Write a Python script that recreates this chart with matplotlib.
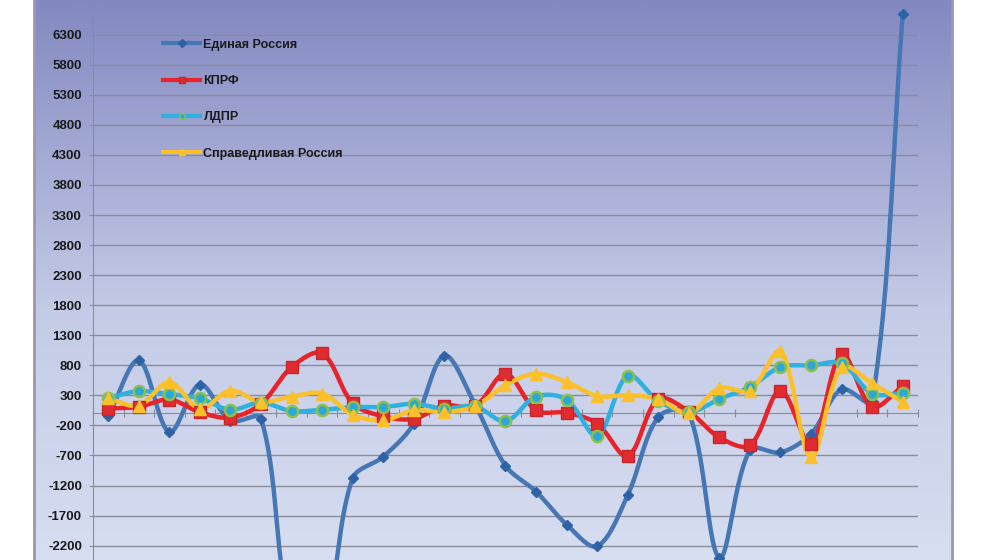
import numpy as np
import matplotlib.pyplot as plt
from matplotlib.lines import Line2D
from matplotlib.colors import LinearSegmentedColormap

plt.rcParams['font.family'] = ['Liberation Sans', 'DejaVu Sans']

# данные по 27 категориям
cats = list(range(1, 28))
er = [-50, 880, -310, 480, -120, -90, -3400, -3500, -1080, -720, -170, 960, 150,
      -870, -1300, -1850, -2210, -1360, -60, 0, -2400, -610, -650, -340, 400, 200, 6640]
kprf = [80, 110, 230, 20, -70, 160, 770, 1000, 170, -50, -90, 130, 120,
        660, 50, 10, -170, -710, 240, 30, -400, -530, 380, -510, 990, 110, 450]
ldpr = [260, 370, 320, 250, 60, 180, 40, 60, 105, 105, 160, 80, 120,
        -130, 280, 230, -370, 630, 210, 20, 240, 440, 770, 800, 830, 330, 340]
sr = [250, 130, 520, 80, 380, 190, 280, 330, -20, -117, 50, 22, 120,
      470, 660, 520, 290, 300, 240, 0, 420, 380, 1030, -730, 770, 500, 190]

names = ['Единая Россия', 'КПРФ', 'ЛДПР', 'Справедливая Россия']
yticks = list(range(-2200, 6301, 500))

# масштаб в пикселях, чтобы сглаживание было как в Excel
PX_X = 30.56
PX_Y = 0.0601


def smooth(x, y, n=30):
    # кривые Безье, контрольные точки зависят от длины отрезков
    P = np.column_stack([np.asarray(x, float) * PX_X, np.asarray(y, float) * PX_Y])
    k = len(P)
    d = np.linalg.norm(np.diff(P, axis=0), axis=1)
    c_out = P.copy()
    c_in = P.copy()
    for i in range(1, k - 1):
        T = P[i + 1] - P[i - 1]
        s = d[i - 1] + d[i]
        c_out[i] = P[i] + T * d[i] / s / 3
        c_in[i] = P[i] - T * d[i - 1] / s / 3
    c_out[0] = P[0] + (P[1] - P[0]) / 3
    c_in[-1] = P[-1] - (P[-1] - P[-2]) / 3
    t = np.linspace(0, 1, n, endpoint=False)[:, None]
    pts = []
    for i in range(k - 1):
        b = ((1 - t)**3 * P[i] + 3 * (1 - t)**2 * t * c_out[i]
             + 3 * (1 - t) * t**2 * c_in[i + 1] + t**3 * P[i + 1])
        pts.append(b)
    pts.append(P[-1:])
    pts = np.vstack(pts)
    return pts[:, 0] / PX_X, pts[:, 1] / PX_Y


fig = plt.figure(figsize=(10, 5.6), dpi=100)

# фон диаграммы с градиентом
bg = fig.add_axes([0.034, 0, 0.918, 1])
cmap = LinearSegmentedColormap.from_list('bg', [(0, '#8388c1'), (0.55, '#c4cbe6'), (1, '#d7def1')])
grad = np.linspace(0, 1, 256).reshape(-1, 1)
bg.imshow(grad, aspect='auto', cmap=cmap, extent=[0, 1, 0, 1])
bg.set_xticks([])
bg.set_yticks([])
for s in bg.spines.values():
    s.set_color('#9a9aa6')
    s.set_linewidth(2)
bg.spines['top'].set_visible(False)
bg.spines['bottom'].set_visible(False)

ax = fig.add_axes([0.093, 0, 0.825, 544 / 560])
ax.set_facecolor('none')
ax.set_xlim(0.5, 27.5)
ax.set_ylim(-2439, 6611)

ax.set_yticks(yticks)
ax.set_yticklabels([str(v) for v in yticks], fontsize=9.5, fontweight='bold', color='#1a1a1a')
ax.yaxis.grid(True, color='#8a8c98', lw=1)
ax.set_axisbelow(True)
ax.tick_params(axis='y', length=3, color='#8a8c98', pad=5)

ax.set_xticks(np.arange(0.5, 28, 1))
ax.set_xticklabels([])
ax.tick_params(axis='x', direction='inout', length=6, color='#8a8c98')
ax.spines['bottom'].set_position(('data', 0))
ax.spines['bottom'].set_color('#8a8c98')
ax.spines['left'].set_color('#8a8c98')
ax.spines['top'].set_visible(False)
ax.spines['right'].set_visible(False)

styles = [
    dict(color='#4677b4', mfc='#2d62a6', mec='#2d62a6', marker='D', ms=5, lw=3.2),
    dict(color='#e8232a', mfc='#e02b30', mec='#c8262b', marker='s', ms=8, lw=3.2),
    dict(color='#2eb0e0', mfc='#2aa8d8', mec='#8cc04a', marker='o', ms=8, lw=3.2, mew=1.8),
    dict(color='#fbc02a', mfc='#fbc02a', mec='#fbc02a', marker='^', ms=9, lw=3.2),
]

for vals, st in zip([er, kprf, ldpr, sr], styles):
    sx, sy = smooth(cats, vals)
    ax.plot(sx, sy, color=st['color'], lw=st['lw'], solid_capstyle='round', zorder=3)
    ax.plot(cats, vals, ls='none', marker=st['marker'], ms=st['ms'], mfc=st['mfc'],
            mec=st['mec'], mew=st.get('mew', 1), zorder=4, clip_on=False)

handles = [Line2D([], [], color=st['color'], lw=3, marker=st['marker'], ms=4,
                  mfc=st['mfc'], mec=st['mec']) for st in styles]
ax.legend(handles, names, loc='upper left', bbox_to_anchor=(0.071, 0.979), frameon=False,
          prop=dict(size=9, weight='bold'), handlelength=3.0, handletextpad=0.25,
          labelspacing=1.95, labelcolor='#1a1a1a')

fig.savefig('out.png', dpi=100)
